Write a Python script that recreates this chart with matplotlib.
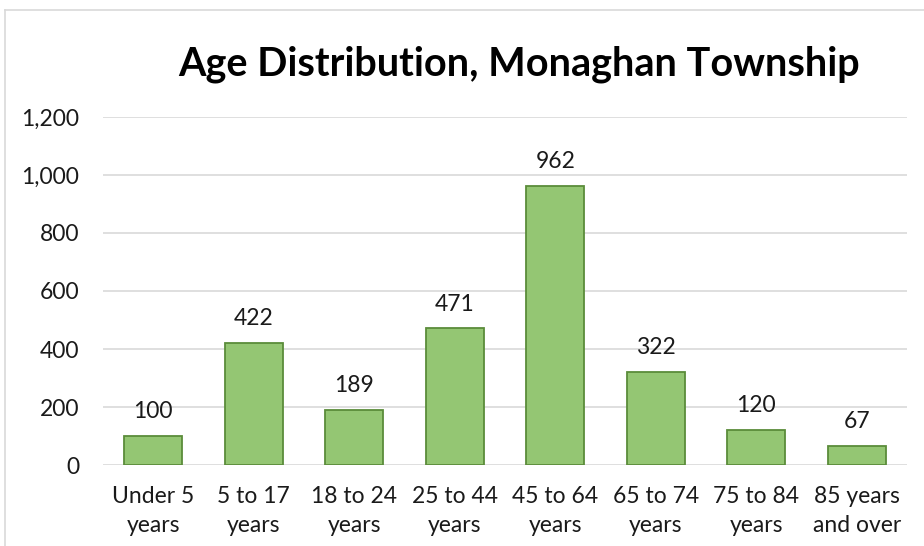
import matplotlib.pyplot as plt
from matplotlib.lines import Line2D

categories = ['Under 5\nyears', '5 to 17\nyears', '18 to 24\nyears', '25 to 44\nyears',
              '45 to 64\nyears', '65 to 74\nyears', '75 to 84\nyears', '85 years\nand over']
population = [100, 422, 189, 471, 962, 322, 120, 67]
y_ticks = [0, 200, 400, 600, 800, 1000, 1200]

plt.rcParams['font.family'] = ['Lato', 'DejaVu Sans']

fig = plt.figure(figsize=(9.24, 5.46), dpi=100)
ax = fig.add_axes([103 / 924, 1 - 465 / 546, 804 / 924, 348 / 546])

x = range(len(categories))
bars = ax.bar(x, population, width=0.58, color='#94C673', edgecolor='#5B8C3A', linewidth=1.3, zorder=3)
for b, v in zip(bars, population):
    ax.annotate(f'{v:,}', (b.get_x() + b.get_width() / 2, v), xytext=(0, 10),
                textcoords='offset points', ha='center', va='bottom', fontsize=16.5, color='#1a1a1a')

ax.set_xlim(-0.5, len(categories) - 0.5)
ax.set_ylim(0, 1200)
ax.set_yticks(y_ticks)
ax.set_yticklabels([f'{t:,}' for t in y_ticks])
ax.set_xticks(list(x))
ax.set_xticklabels(categories, linespacing=1.5)
ax.tick_params(length=0, labelsize=16.5, colors='#1a1a1a')
ax.tick_params(axis='y', pad=17)
ax.tick_params(axis='x', pad=15)
ax.grid(axis='y', color='#D9D9D9', linewidth=1.2, zorder=0)
for s in ax.spines.values():
    s.set_visible(False)

fig.text(519 / 924, 1 - 64 / 546, 'Age Distribution, Monaghan Township', ha='center', va='center',
         fontsize=28.5, fontweight='bold', color='black')

# light chart-area border along the top and left
fig.add_artist(Line2D([5 / 924, 1], [1 - 10 / 546] * 2, color='#D9D9D9', linewidth=1.2))
fig.add_artist(Line2D([5 / 924] * 2, [0, 1 - 10 / 546], color='#D9D9D9', linewidth=1.2))

fig.savefig('out.png', dpi=100)
